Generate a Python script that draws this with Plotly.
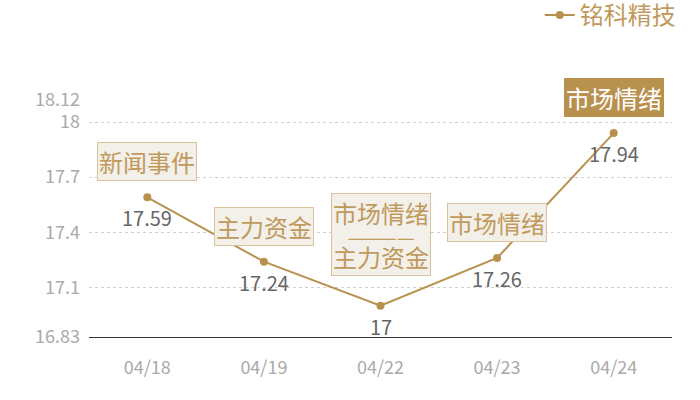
import plotly.graph_objects as go

dates = ['04/18', '04/19', '04/22', '04/23', '04/24']
prices = [17.59, 17.24, 17.00, 17.26, 17.94]
events = [['新闻事件'], ['主力资金'], ['市场情绪', '————', '主力资金'], ['市场情绪'], ['市场情绪']]
highlight = [False, False, False, False, True]
tick_vals = [16.83, 17.1, 17.4, 17.7, 18, 18.12]
tick_text = ['16.83', '17.1', '17.4', '17.7', '18', '18.12']

gold = '#b8914f'
font_cn = 'Noto Sans CJK SC'

fig = go.Figure()
fig.add_trace(go.Scatter(x=dates, y=prices, mode='lines+markers', name='铭科精技',
                         line=dict(color=gold, width=2),
                         marker=dict(color=gold, size=8)))

# value labels under each point
for d, p in zip(dates, prices):
    fig.add_annotation(x=d, y=p, text='{:g}'.format(p), showarrow=False,
                       yanchor='top', yshift=-4,
                       font=dict(family=font_cn, size=20, color='#666666'))

# event boxes above each point
for d, p, ev, hl in zip(dates, prices, events, highlight):
    if len(ev) == 1:
        txt = ev[0]
        fsize = 24
        shift = 16
    else:
        # smaller base size keeps the line spacing tight, spans keep glyphs big
        txt = '<br>'.join('<span style="font-size:%dpx">%s</span>' % (20 if s.startswith('—') else 24, s) for s in ev)
        fsize = 17
        shift = 30
    fig.add_annotation(x=d, y=p, text=txt, showarrow=False,
                       yanchor='bottom', yshift=shift,
                       font=dict(family=font_cn, size=fsize, color='#ffffff' if hl else '#c09a5c'),
                       bgcolor=gold if hl else '#f3efe9',
                       bordercolor=gold if hl else '#d9c29b',
                       borderwidth=1, borderpad=1)

fig.update_layout(
    width=700, height=400,
    margin=dict(l=89, r=28, t=100, b=63, autoexpand=False),
    paper_bgcolor='white', plot_bgcolor='white',
    font=dict(family=font_cn),
    showlegend=True,
    legend=dict(orientation='h', x=1.015, xanchor='right', y=1.357, yanchor='middle',
                font=dict(family=font_cn, size=24, color='#c09a5c'),
                itemwidth=30),
    xaxis=dict(type='category', range=[-0.5, 4.5], showgrid=False, ticks='', showline=True,
               linecolor='#333333', linewidth=1,
               tickfont=dict(family=font_cn, size=18, color='#aaaaaa'), ticklabelstandoff=14),
    yaxis=dict(range=[16.83, 18.12], tickvals=tick_vals, ticktext=tick_text,
               showgrid=True, gridcolor='#d0d0d0', griddash='dot', gridwidth=1,
               zeroline=False, showline=False, ticks='',
               tickfont=dict(family=font_cn, size=18, color='#aaaaaa'), ticklabelstandoff=8),
)

# drop the default 8px body margin so the figure sits flush in the window
fig.write_html('out.html', config={'displayModeBar': False},
               post_script="document.body.style.margin='0px';")
